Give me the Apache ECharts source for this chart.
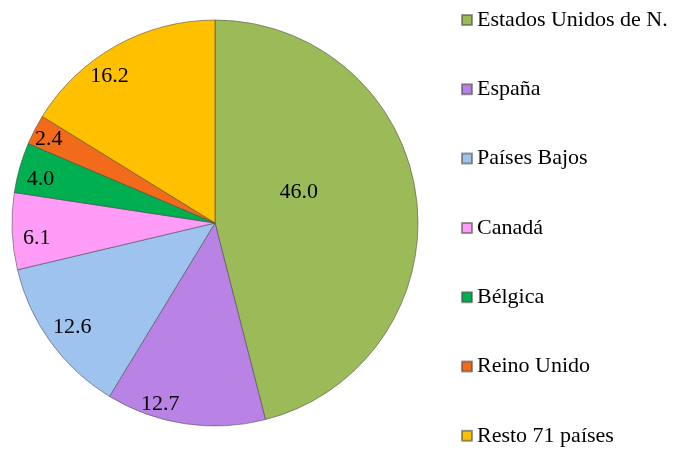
<!DOCTYPE html>
<html>
<head>
<meta charset="utf-8">
<script src="https://cdn.jsdelivr.net/npm/echarts@6/dist/echarts.min.js"></script>
<style>
  html, body { margin: 0; padding: 0; background: #fff; }
  #chart { width: 687px; height: 450px; }
</style>
</head>
<body>
<div id="chart"></div>
<script>
  // shares by country (%)
  var countries = ["Estados Unidos de N.", "España", "Países Bajos", "Canadá", "Bélgica", "Reino Unido", "Resto 71 países"];
  var shares = [46.0, 12.7, 12.6, 6.1, 4.0, 2.4, 16.2];
  var colors = ["#9bbb59", "#b983e6", "#9dc3ee", "#ff9cf7", "#00b050", "#f26b1b", "#ffc000"];
  // small nudges so labels sit like Excel's best-fit placement
  var labelNudge = [[-20, -18], [-28, 2], [4, -2], [3, 8], [0, 6], [-5, 0], [-17, 12]];

  var font = "'Liberation Serif', 'Times New Roman', serif";
  var chart = echarts.init(document.getElementById("chart"));

  var pieData = countries.map(function (name, i) {
    return {
      name: name,
      value: shares[i],
      itemStyle: { color: colors[i] },
      label: { show: i === 0, offset: labelNudge[i] }
    };
  });

  // labels near outer edge: transparent wider pie so "inside" sits at ~0.88r
  var labelData = countries.map(function (name, i) {
    return {
      name: name,
      value: shares[i],
      label: { show: i !== 0, offset: labelNudge[i] }
    };
  });

  chart.setOption({
    animation: false,
    color: colors,
    legend: {
      orient: "vertical",
      left: 461,
      top: 9,
      height: 441,
      padding: 0,
      itemWidth: 10,
      itemHeight: 10,
      itemGap: 47.3,
      icon: "rect",
      selectedMode: false,
      textStyle: { fontFamily: font, fontSize: 22, color: "#000" },
      data: countries
    },
    series: [
      {
        type: "pie",
        center: [215, 223],
        radius: [0, 203],
        startAngle: 90,
        clockwise: true,
        silent: true,
        itemStyle: {
          borderColor: "rgba(70,70,70,0.55)",
          borderWidth: 1
        },
        label: {
          position: "inside",
          fontFamily: font,
          fontSize: 22,
          color: "#000",
          formatter: function (p) { return p.value.toFixed(1); }
        },
        labelLine: { show: false },
        data: pieData
      },
      {
        type: "pie",
        center: [215, 223],
        radius: [0, 357],
        startAngle: 90,
        clockwise: true,
        silent: true,
        itemStyle: { color: "rgba(0,0,0,0)", borderWidth: 0 },
        label: {
          position: "inside",
          fontFamily: font,
          fontSize: 22,
          color: "#000",
          formatter: function (p) { return p.value.toFixed(1); }
        },
        labelLine: { show: false },
        data: labelData
      }
    ]
  });
</script>
</body>
</html>
